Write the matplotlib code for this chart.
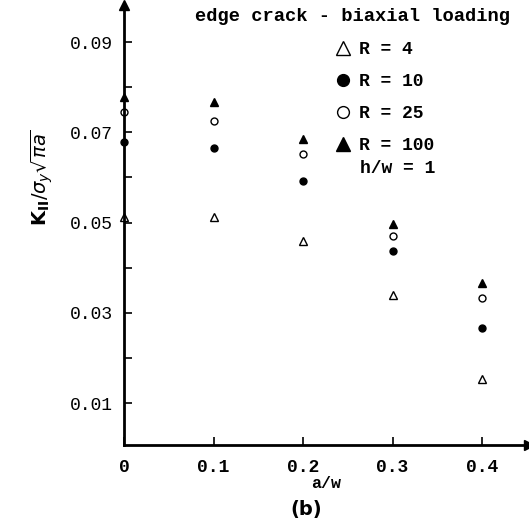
import numpy as np
import matplotlib.pyplot as plt

# a/w positions and K_II / sigma_y sqrt(pi a)
a_w = [0.0, 0.1, 0.2, 0.3, 0.4]
k_R4 = [0.0512, 0.0513, 0.0458, 0.0340, 0.0153]
k_R10 = [0.0678, 0.0665, 0.0593, 0.0438, 0.0266]
k_R25 = [0.0745, 0.0724, 0.0652, 0.0471, 0.0333]
k_R100 = [0.0779, 0.0766, 0.0685, 0.0496, 0.0366]

xticks = [0, 0.1, 0.2, 0.3, 0.4]
xticklabels = ['0', '0.1', '0.2', '0.3', '0.4']
yticks = [0.01, 0.03, 0.05, 0.07, 0.09]
yticklabels = ['0.01', '0.03', '0.05', '0.07', '0.09']
yminor = [0.02, 0.04, 0.06, 0.08]

mono = 'Liberation Mono'

fig = plt.figure(figsize=(5.29, 5.23), dpi=100)
ax = fig.add_axes([0.2344, 0.1491, 0.7656, 0.8413])

ax.plot(a_w, k_R4, linestyle='none', marker='^', mfc='white', mec='black',
        mew=1.0, ms=6, clip_on=False, label='R = 4')
ax.plot(a_w, k_R10, linestyle='none', marker='o', color='black',
        ms=5, clip_on=False, label='R = 10')
ax.plot(a_w, k_R25, linestyle='none', marker='o', mfc='white', mec='black',
        mew=1.0, ms=5, clip_on=False, label='R = 25')
ax.plot(a_w, k_R100, linestyle='none', marker='^', color='black',
        ms=6, clip_on=False, label='R = 100')

ax.set_xlim(0, 0.4525)
ax.set_ylim(0.0007, 0.0982)

for s in ['top', 'right']:
    ax.spines[s].set_visible(False)
for s in ['left', 'bottom']:
    ax.spines[s].set_linewidth(2)

# axis arrows
ax.plot(1, 0, '>k', ms=7, transform=ax.transAxes, clip_on=False)
ax.plot(0, 1, '^k', ms=7, transform=ax.transAxes, clip_on=False)

ax.set_xticks(xticks)
ax.set_xticklabels(xticklabels, family=mono, fontweight='bold', fontsize=13)
ax.set_yticks(yticks)
ax.set_yticklabels(yticklabels, family=mono, fontsize=13)
ax.set_yticks(yminor, minor=True)
ax.tick_params(axis='both', which='both', direction='in', length=6, width=1.2)
ax.tick_params(axis='x', pad=10)
ax.tick_params(axis='y', pad=8)

ax.set_xlabel('a/w', family=mono, fontweight='bold', fontsize=12, labelpad=0)
ax.set_ylabel(r'$\mathbf{K_{II}}/\sigma_y\sqrt{\pi a}$', fontsize=14)
ax.yaxis.set_label_coords(-0.17, 0.607)

ax.legend(loc='upper left', bbox_to_anchor=(0.5185, 0.918), frameon=False,
          borderpad=0, borderaxespad=0,
          markerscale=1.7, handletextpad=0.4, labelspacing=0.83,
          handlelength=1.0, prop={'family': mono, 'weight': 'bold', 'size': 13})

ax.text(0.565, 0.973, 'edge crack - biaxial loading', transform=ax.transAxes,
        family=mono, fontweight='bold', fontsize=13.5, ha='center', va='center')
ax.text(0.583, 0.628, 'h/w = 1', transform=ax.transAxes, family=mono,
        fontweight='bold', fontsize=13, va='center')

fig.text(0.578, 0.025, '(b)', fontsize=14, fontweight='bold', ha='center',
         va='center')

fig.savefig('out.png', dpi=100)
